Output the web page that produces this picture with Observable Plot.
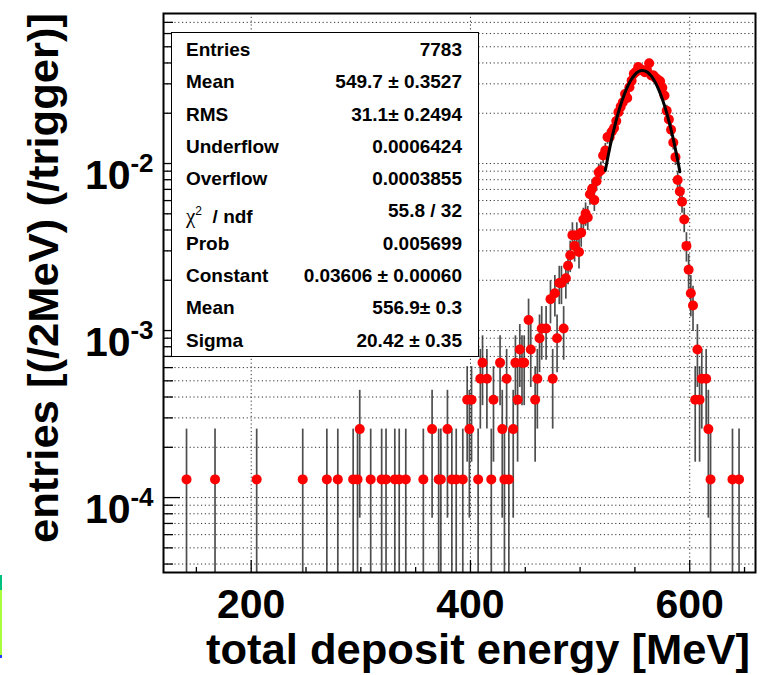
<!DOCTYPE html>
<html><head><meta charset="utf-8">
<script src="https://cdn.jsdelivr.net/npm/d3@7"></script>
<script src="https://cdn.jsdelivr.net/npm/@observablehq/plot@0.6"></script>
<style>
body{margin:0;background:#fff;}
#wrap{position:relative;width:760px;height:675px;overflow:hidden;background:#fff;}
#stats{position:absolute;left:171px;top:32px;width:308px;height:325px;box-sizing:border-box;border:1px solid #000;background:#fff;font:bold 19px "Liberation Sans",Arial,sans-serif;color:#000;padding:1px 16px 0 14px;}
.row{display:flex;justify-content:space-between;height:32.3px;line-height:32.3px;white-space:nowrap;}
.chi{font-family:"Liberation Serif","Times New Roman",serif;font-weight:normal;font-size:21px;}
.sup{font-size:12px;vertical-align:8px;font-weight:normal;}
#strip{position:absolute;left:0;top:575px;width:2px;height:83px;background:linear-gradient(#00c080 0,#00c080 18%,#a8ff3c 18%,#a8ff3c 96%,#2040ff 96%);}
</style></head>
<body><div id="wrap"></div>
<script>
// ---- data (2 MeV bins: centre energy, entries) ----
const energy = [141,167,205,247,269,279,293,297,299,309,319,323,331,335,341,357,365,371,373,379,383,387,393,397,399,401,407,409,411,415,419,421,427,429,431,433,435,439,441,443,445,447,449,453,455,459,461,463,465,469,473,475,477,479,481,483,485,487,489,491,493,495,497,499,501,503,505,507,509,511,513,515,517,519,521,523,525,527,529,531,533,535,537,539,541,543,545,547,549,551,553,555,557,559,561,563,565,567,569,571,573,575,577,579,581,583,585,587,589,591,593,595,597,599,601,603,605,607,609,611,615,617,619,639,645];
const counts = [1,1,1,1,1,1,1,1,2,1,1,1,1,1,1,1,2,1,1,2,1,1,1,3,2,3,1,4,5,4,1,3,5,2,1,4,1,2,5,3,6,5,5,9,6,3,4,7,8,8,12,4,13,7,15,15,8,16,19,22,29,25,29,23,30,36,39,37,51,55,47,61,69,71,87,93,112,112,121,127,140,158,170,181,203,192,223,244,268,276,294,286,281,274,283,310,262,262,253,247,242,221,199,161,143,124,104,85,62,53,46,36,25,18,13,11,3,6,3,4,4,2,1,1,1];
const entries = 7783;
// gaussian fit curve
const fitEnergy = [523,526,529,532,535,538,541,544,547,550,553,556,559,562,565,568,571,574,577,580,583,586,589,591];
const fitValue  = [0.00909,0.01148,0.01418,0.01715,0.02029,0.02350,0.02663,0.02954,0.03206,0.03406,0.03541,0.03603,0.03587,0.03495,0.03333,0.03111,0.02841,0.02540,0.02221,0.01902,0.01593,0.01306,0.01048,0.00894];
// axes
const xTicksMajor = [200,400,600];
const xTicksMinor = [150,250,300,350,450,500,550,650];
const yDecades = [1e-4,1e-3,1e-2];
const yMultipliers = [1,2,3,4,5,6,7,8,9];
const xLabel = "total deposit energy [MeV]";
const yLabel = "entries [(/2MeV) (/trigger)]";
const statsLabels = ["Entries","Mean","RMS","Underflow","Overflow","CHI","Prob","Constant","Mean","Sigma"];
const statsValues = ["7783","549.7 ± 0.3527","31.1± 0.2494","0.0006424","0.0003855","55.8 / 32","0.005699","0.03606 ± 0.00060","556.9± 0.3","20.42 ± 0.35"];

const W=760,H=675,mL=163,mR=5,mT=13,mB=103;
const pw=W-mL-mR, ph=H-mT-mB;
const xDomain=[120,660];
const yDomain=[3.56e-5,0.0791];

const data = energy.map((e,i)=>{
  const n=counts[i], s=Math.sqrt(n);
  return {e, y:n/entries, lo:Math.max((n-s)/entries, yDomain[0]), hi:(n+s)/entries};
});
const fit = fitEnergy.map((e,i)=>({e, y:fitValue[i]}));
const yGrid=[];
for (const d of [1e-5,1e-4,1e-3,1e-2]) for (const m of yMultipliers){const v=+(m*d).toPrecision(3); if(v>=yDomain[0]&&v<=yDomain[1]) yGrid.push(v);}
const yMinor = yGrid.filter(v=>!yDecades.includes(v));

const font='"Liberation Sans", Arial, Helvetica, sans-serif';
const chart = Plot.plot({
  width:W, height:H, marginLeft:mL, marginRight:mR, marginTop:mT, marginBottom:mB,
  x:{domain:xDomain},
  y:{type:"log", domain:yDomain},
  style:{fontFamily:font, background:"#fff", overflow:"visible"},
  marks:[
    Plot.gridX(xTicksMajor,{stroke:"#333",strokeOpacity:1,strokeWidth:1,strokeDasharray:"1.2,2.6"}),
    Plot.gridY(yGrid,{stroke:"#333",strokeOpacity:1,strokeWidth:1,strokeDasharray:"1.2,2.6"}),
    Plot.ruleX(data,{x:"e",y1:"lo",y2:"hi",stroke:"#222",strokeWidth:1.7,strokeOpacity:0.8,clip:true}),
    Plot.dot(data,{x:"e",y:"y",r:5,fill:"#ff0000",stroke:"none"}),
    Plot.line(fit,{x:"e",y:"y",stroke:"#000",strokeWidth:3,curve:"natural"}),
    Plot.tickY(yMinor,{y:d=>d,insetRight:pw-10,stroke:"#000",strokeWidth:1.3}),
    Plot.tickY(yDecades,{y:d=>d,insetRight:pw-17,stroke:"#000",strokeWidth:1.3}),
    Plot.tickX(xTicksMinor,{x:d=>d,insetTop:ph-5,stroke:"#000",strokeWidth:1.3}),
    Plot.tickX(xTicksMajor,{x:d=>d,insetTop:ph-12,stroke:"#000",strokeWidth:1.3}),
    Plot.frame({stroke:"#000",strokeWidth:2}),
    Plot.axisX({ticks:xTicksMajor,tickSize:0,tickPadding:16,fontSize:41,fontWeight:"bold",tickFormat:d=>String(d),label:null}),
    Plot.axisY({ticks:yDecades,tickSize:0,tickPadding:33,fontSize:41,fontWeight:"bold",tickFormat:()=>"10",dy:12.6,label:null}),
    Plot.axisY({ticks:yDecades,tickSize:0,tickPadding:10,fontSize:26,fontWeight:"bold",tickFormat:d=>String(Math.round(Math.log10(d))),label:null})
  ]
});
const svg=d3.select(chart);
svg.append("text").attr("x",750).attr("y",664).attr("text-anchor","end")
  .attr("font-family",font).attr("font-size",42).attr("font-weight","bold")
  .attr("textLength",544).attr("lengthAdjust","spacingAndGlyphs").text(xLabel);
svg.append("text").attr("transform","translate(58,13) rotate(-90)").attr("text-anchor","end")
  .attr("font-family",font).attr("font-size",43).attr("font-weight","bold")
  .attr("textLength",530).attr("lengthAdjust","spacingAndGlyphs").text(yLabel);

const wrap=document.getElementById("wrap");
wrap.appendChild(chart);
const box=document.createElement("div"); box.id="stats";
statsLabels.forEach((l,i)=>{
  const r=document.createElement("div"); r.className="row";
  const a=document.createElement("span");
  if(l==="CHI"){a.innerHTML='<span class="chi">χ</span><span class="sup">2</span>&nbsp;&nbsp;/ ndf';} else a.textContent=l;
  const b=document.createElement("span"); b.textContent=statsValues[i];
  r.appendChild(a); r.appendChild(b); box.appendChild(r);
});
wrap.appendChild(box);
const strip=document.createElement("div"); strip.id="strip"; wrap.appendChild(strip);
</script>
</body></html>
